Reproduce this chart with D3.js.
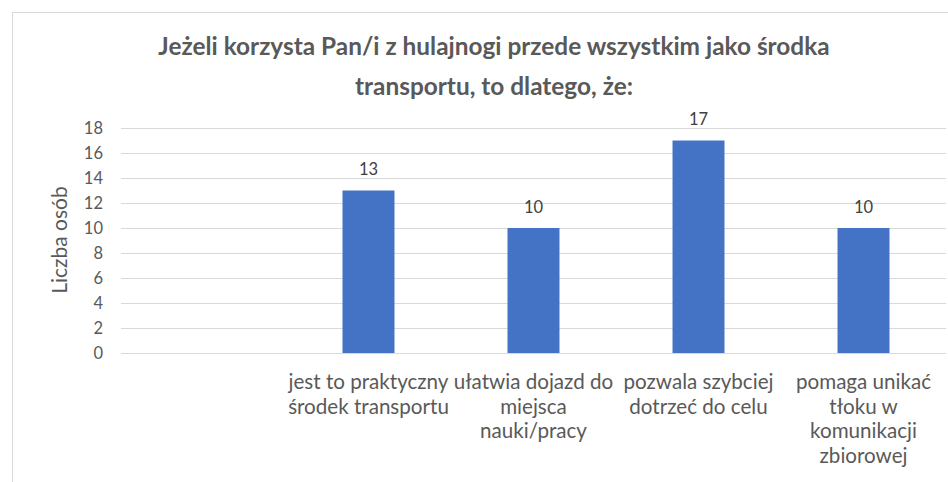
<!DOCTYPE html>
<html>
<head>
<meta charset="utf-8">
<script src="https://cdn.jsdelivr.net/npm/d3@7"></script>
<style>
  body { margin: 0; background: #fff; }
  svg { display: block; font-family: Lato, "Open Sans", sans-serif; }
</style>
</head>
<body>
<svg id="chart" width="948" height="482"></svg>
<script>
// chart data
var titleLines = ["Jeżeli korzysta Pan/i z hulajnogi przede wszystkim jako środka", "transportu, to dlatego, że:"];
var categories = ["", "jest to praktyczny\nśrodek transportu", "ułatwia dojazd do\nmiejsca\nnauki/pracy", "pozwala szybciej\ndotrzeć do celu", "pomaga unikać\ntłoku w\nkomunikacji\nzbiorowej"];
var values = [null, 13, 10, 17, 10];
var yTicks = [0, 2, 4, 6, 8, 10, 12, 14, 16, 18];
var yLabel = "Liczba osób";

var svg = d3.select("#chart");

// chart frame
svg.append("rect")
	.attr("x", 12.5).attr("y", 12.5)
	.attr("width", 960).attr("height", 500)
	.attr("fill", "none")
	.attr("stroke", "#d9d9d9");

var plotL = 121, plotR = 946, plotT = 128, plotB = 353;

var x = d3.scaleBand()
	.domain(categories.map((d, i) => i))
	.range([plotL, plotR])
	.paddingInner(0.685)
	.paddingOuter(0.3425);

var y = d3.scaleLinear()
	.domain([0, 18])
	.range([plotB, plotT]);

// gridlines
svg.append("g")
	.selectAll("line")
	.data(yTicks)
	.enter()
	.append("line")
	.attr("x1", plotL).attr("x2", plotR)
	.attr("y1", d => Math.round(y(d)) + 0.5)
	.attr("y2", d => Math.round(y(d)) + 0.5)
	.attr("stroke", "#d9d9d9")
	.attr("stroke-width", 1);

// y axis tick labels
var yAxis = svg.append("g")
	.attr("transform", "translate(" + (plotL - 18) + ",0)")
	.call(d3.axisLeft(y).tickValues(yTicks).tickSize(0).tickPadding(0));
yAxis.select(".domain").remove();
yAxis.selectAll("text")
	.attr("fill", "#595959")
	.style("font-family", "Lato, sans-serif")
	.style("font-size", "16.5px");

// y axis title
svg.append("text")
	.attr("transform", "translate(67,240) rotate(-90)")
	.attr("text-anchor", "middle")
	.attr("fill", "#595959")
	.style("font-size", "21px")
	.text(yLabel);

// bars
var barData = values.map((v, i) => ({ i: i, v: v })).filter(d => d.v != null);

svg.append("g")
	.selectAll("rect")
	.data(barData)
	.enter()
	.append("rect")
	.attr("x", d => x(d.i))
	.attr("width", x.bandwidth())
	.attr("y", d => y(d.v))
	.attr("height", d => y(0) - y(d.v))
	.attr("fill", "#4472c4");

// value labels
svg.append("g")
	.selectAll("text")
	.data(barData)
	.enter()
	.append("text")
	.attr("x", d => x(d.i) + x.bandwidth() / 2)
	.attr("y", d => y(d.v) - 15.5)
	.attr("text-anchor", "middle")
	.attr("fill", "#404040")
	.style("font-size", "16.5px")
	.text(d => d.v);

// category labels
var cat = svg.append("g")
	.selectAll("text")
	.data(categories)
	.enter()
	.append("text")
	.attr("text-anchor", "middle")
	.attr("fill", "#595959")
	.style("font-size", "20.6px");

cat.selectAll("tspan")
	.data((d, i) => d.split("\n").map(s => ({ s: s, i: i })))
	.enter()
	.append("tspan")
	.attr("x", d => x(d.i) + x.bandwidth() / 2)
	.attr("y", (d, j) => 389 + j * 24.5)
	.text(d => d.s);

// title
svg.append("g")
	.selectAll("text")
	.data(titleLines)
	.enter()
	.append("text")
	.attr("x", 494)
	.attr("y", (d, i) => 55 + i * 40)
	.attr("text-anchor", "middle")
	.attr("fill", "#595959")
	.style("font-size", "24.4px")
	.style("font-weight", "bold")
	.text(d => d);
</script>
</body>
</html>
